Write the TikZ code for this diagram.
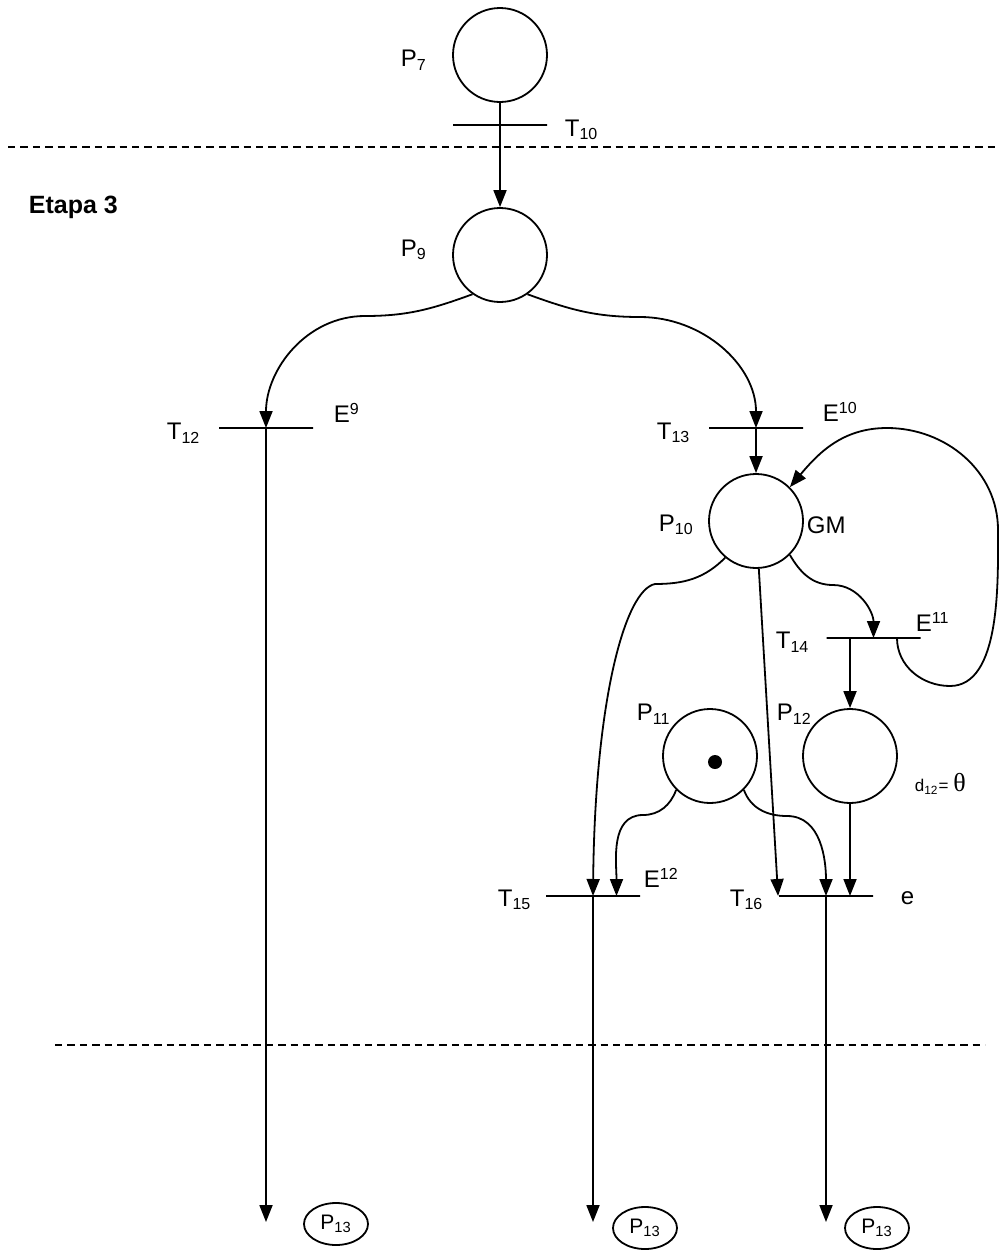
\documentclass[tikz,border=0pt]{standalone}
\usepackage{fontspec}
\setmainfont{Liberation Sans}
\newfontfamily\greekserif{Liberation Serif}
\usepackage{tikz}
\usetikzlibrary{positioning, arrows.meta, calc, shapes.geometric}

\begin{document}
\begin{tikzpicture}[
  x=0.5pt, y=0.5pt,
  line width=0.9pt,
  place/.style={draw, circle, minimum size=47pt, inner sep=0pt},
  trans/.style={draw, rectangle, minimum width=47pt, minimum height=0pt,
                inner sep=0pt},
  token/.style={fill, circle, minimum size=7pt, inner sep=0pt},
  endplace/.style={draw, ellipse, minimum width=32pt, minimum height=21pt,
                   inner sep=0pt, font=\fontsize{10.5}{12}\selectfont},
  lbl/.style={anchor=west, inner sep=0pt, font=\fontsize{12}{14}\selectfont},
  arr/.style={-{Triangle[length=8.5pt, width=6.5pt]}},
  cut/.style={dash pattern=on 3.7pt off 2.5pt, line width=0.6pt}
]
\useasboundingbox (0,0) rectangle (999,-1253);

% places and transitions
\node[place] (p7) at (500,-55) {};
\node[trans] (t10) at (500,-125) {};
\node[place] (p9) at (500,-255) {};
\node[trans] (t12) at (266,-428) {};
\node[trans] (t13) at (756,-428) {};
\node[place] (p10) at (756,-521) {};
\node[trans] (t14) at (873.5,-638) {};
\node[place] (p11) at (710,-756) {};
\node[token] (tok) at (715,-762) {};
\node[place] (p12) at (850,-756) {};
\node[trans] (t15) at (593,-896) {};
\node[trans] (t16) at (826,-896) {};
\node[endplace] (p13a) at (336,-1224) {P\textsubscript{13}};
\node[endplace] (p13b) at (645,-1228) {P\textsubscript{13}};
\node[endplace] (p13c) at (877,-1228) {P\textsubscript{13}};
\coordinate (end12) at (266,-1222);
\coordinate (end15) at (593,-1222);
\coordinate (end16) at (826,-1222);

% labels
\node[lbl] (lp7) at (400,-60) {P\textsubscript{7}};
\node[lbl] (lt10) at (564,-130) {T\textsubscript{10}};
\node[lbl, font=\bfseries\fontsize{12.5}{14}\selectfont] (etapa) at (28,-207) {Etapa 3};
\node[lbl] (lp9) at (400,-250) {P\textsubscript{9}};
\node[lbl] (lt12) at (166,-433) {T\textsubscript{12}};
\node[lbl] (le9) at (333,-413) {E\textsuperscript{9}};
\node[lbl] (lt13) at (656,-433) {T\textsubscript{13}};
\node[lbl] (le10) at (822,-412) {E\textsuperscript{10}};
\node[lbl] (lp10) at (658,-525) {P\textsubscript{10}};
\node[lbl] (lgm) at (806,-525) {GM};
\node[lbl] (lt14) at (775,-642) {T\textsubscript{14}};
\node[lbl] (le11) at (915,-622) {E\textsuperscript{11}};
\node[lbl] (lp11) at (636,-714) {P\textsubscript{11}};
\node[lbl] (lp12) at (776,-714) {P\textsubscript{12}};
\node[lbl, font=\fontsize{8.5}{10}\selectfont] (ld12) at (914,-784)
  {d\textsubscript{12}= {\greekserif\fontsize{13}{14}\selectfont θ}};
\node[lbl] (lt15) at (497,-900) {T\textsubscript{15}};
\node[lbl] (le12) at (643,-878) {E\textsuperscript{12}};
\node[lbl] (lt16) at (729,-900) {T\textsubscript{16}};
\node[lbl] (le) at (900,-898) {e};

% stage borders
\draw[cut] (8,-147) -- (999,-147);
\draw[cut] (55,-1045) -- (985,-1045);

% arcs
\draw (p7) -- (t10.center);
\draw[arr] (t10.center) -- (p9);
\draw[arr] (p9.235) to[out=200, in=0] (365,-316) to[out=180, in=90] (t12.center);
\draw[arr] (p9.305) to[out=340, in=180] (640,-317) to[out=0, in=90] (t13.center);
\draw[arr] (t12.center) -- (end12);
\draw[arr] (t13.center) -- (p10);
\draw[arr] (p10.-45) to[out=300, in=180] (833,-585) to[out=0, in=90] (t14.center);
\draw[arr] ($(t14.center)+(23.5,0)$) to[out=270, in=180] (950,-686)
  to[out=0, in=270, looseness=0.8] (998,-530) to[out=90, in=0] (887,-428)
  to[out=180, in=50] (p10.45);
\draw[arr] ($(t14.center)+(-23.5,0)$) -- (p12);
\draw[arr] (p10.-130) to[out=225, in=0] (655,-584)
  .. controls (625,-590) and (595,-700) .. (t15.center);
\draw[arr] (p10) -- (t16.west);
\draw[arr] (p11.-135) to[out=250, in=0] (643,-815) to[out=180, in=90] ($(t15.center)+(23.5,0)$);
\draw[arr] (p11.-45) to[out=290, in=180] (787,-816) to[out=0, in=90] (t16.center);
\draw[arr] (p12) -- ($(t16.center)+(24,0)$);
\draw[arr] (t15.center) -- (end15);
\draw[arr] (t16.center) -- (end16);
\end{tikzpicture}
\end{document}
